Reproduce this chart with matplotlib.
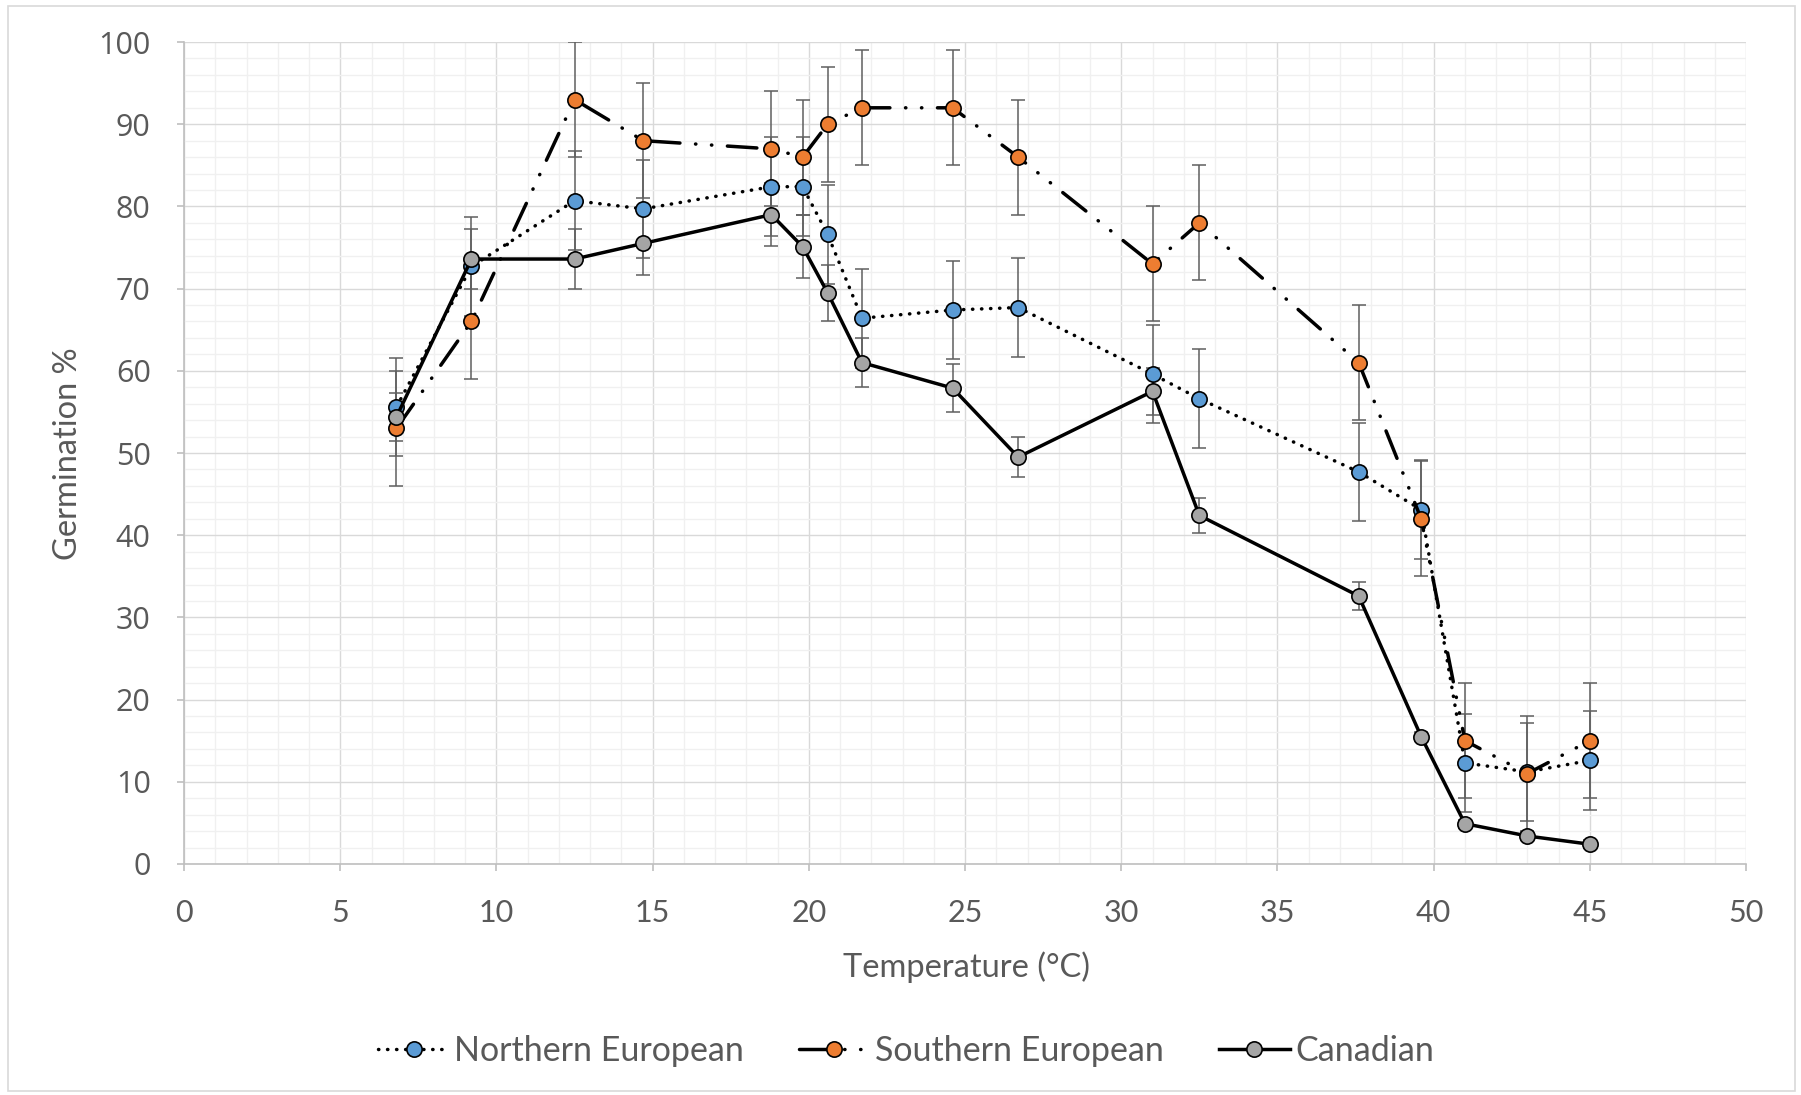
import matplotlib
matplotlib.use("Agg")
import matplotlib.pyplot as plt
from matplotlib.patches import Rectangle
from matplotlib.ticker import MultipleLocator

# ---------------- data ----------------
temps = [6.8, 9.2, 12.5, 14.7, 18.8, 19.8, 20.6, 21.7, 24.6, 26.7,
         31.0, 32.5, 37.6, 39.6, 41.0, 43.0, 45.0]

northern = [55.6, 72.7, 80.7, 79.7, 82.4, 82.4, 76.6, 66.4, 67.4, 67.7,
            59.6, 56.6, 47.7, 43.1, 12.3, 11.2, 12.6]
northern_err = [6, 6, 6, 6, 6, 6, 6, 6, 6, 6, 6, 6, 6, 6, 6, 6, 6]

southern = [53, 66, 93, 88, 87, 86, 90, 92, 92, 86,
            73, 78, 61, 42, 15, 11, 15]
southern_err = [7, 7, 7, 7, 7, 7, 7, 7, 7, 7, 7, 7, 7, 7, 7, 7, 7]

canadian = [54.4, 73.6, 73.6, 75.5, 79.0, 75.1, 69.5, 61.0, 57.9, 49.5,
            57.5, 42.4, 32.6, 15.5, 4.9, 3.4, 2.4]
canadian_err = [2.9, 3.6, 3.7, 3.8, 3.8, 3.8, 3.4, 3.0, 2.9, 2.4,
                2.9, 2.1, 1.7, 0.5, 0.5, 0.5, 0.5]

labels = ["Northern European", "Southern European", "Canadian"]

# ---------------- style ----------------
TXT = "#595959"
ERR = "#5f5f5f"
plt.rcParams["font.family"] = ["Lato", "DejaVu Sans"]

fig = plt.figure(figsize=(18.01, 10.95), dpi=100)
ax = fig.add_axes([0.1022, 0.211, 0.8673, 0.7506])

# outer chart border
fig.patches.append(Rectangle((0.0044, 0.004), 0.9923, 0.9905, transform=fig.transFigure,
                             fill=False, edgecolor="#d9d9d9", linewidth=1.2, zorder=0))

series = [
    (northern, northern_err, "#5b9bd5", (0, (0.1, 2.5)), 3),
    (southern, southern_err, "#ed7d31", (0, (8.5, 4.5, 0.1, 4.5, 0.1, 4.5)), 4),
    (canadian, canadian_err, "#a5a5a5", "-", 5),
]

handles = []
for (vals, err, col, ls, z), lab in zip(series, labels):
    ax.errorbar(temps, vals, yerr=err, fmt="none", ecolor=ERR, elinewidth=1.1,
                capsize=4.7, capthick=1.1, zorder=2)
    ln, = ax.plot(temps, vals, color="black", linewidth=2.5, linestyle=ls,
                  dash_capstyle="round", marker="o", markersize=11,
                  markerfacecolor=col, markeredgecolor="black", markeredgewidth=1.2,
                  label=lab, zorder=z)
    handles.append(ln)

ax.set_xlim(0, 50)
ax.set_ylim(0, 100)
ax.xaxis.set_major_locator(MultipleLocator(5))
ax.xaxis.set_minor_locator(MultipleLocator(1))
ax.yaxis.set_major_locator(MultipleLocator(10))
ax.yaxis.set_minor_locator(MultipleLocator(2))

ax.grid(which="minor", color="#f0f0f0", linewidth=1.0, zorder=0)
ax.grid(which="major", color="#d9d9d9", linewidth=1.0, zorder=0)
ax.set_axisbelow(True)

for s in ["top", "right"]:
    ax.spines[s].set_visible(False)
for s in ["left", "bottom"]:
    ax.spines[s].set_color("#bfbfbf")
    ax.spines[s].set_linewidth(1.2)

ax.tick_params(which="major", direction="out", length=5, width=1.2, color="#bfbfbf",
               labelcolor=TXT)
ax.tick_params(which="minor", length=0)
ax.tick_params(axis="x", labelsize=22, pad=20)
ax.tick_params(axis="y", labelsize=22, pad=19)
for t in ax.get_yticklabels():
    t.set_fontfamily(["Open Sans", "DejaVu Sans"])

fig.text(0.5365, 0.117, "Temperature (°C)", ha="center", va="center", fontsize=23.5, color=TXT)
fig.text(0.038, 0.586, "Germination %", ha="center", va="center", rotation=90,
         fontsize=23.5, color=TXT)

fig.legend(handles=handles, loc="center", bbox_to_anchor=(0.503, 0.040), ncol=3,
           frameon=False, fontsize=24.5, labelcolor=TXT, handlelength=2.1,
           handletextpad=0.15, columnspacing=1.6, numpoints=1)

fig.savefig("out.png", dpi=100)
